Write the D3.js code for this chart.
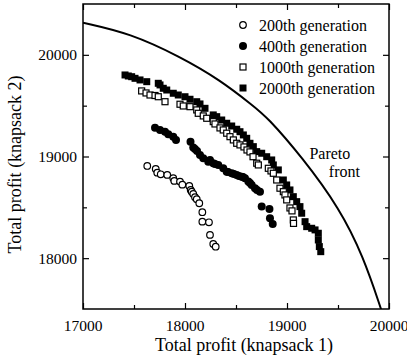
<!DOCTYPE html>
<html>
<head>
<meta charset="utf-8">
<script src="https://cdn.jsdelivr.net/npm/d3@7"></script>
<style>
  body { margin: 0; background: #fff; }
  text { font-family: "Liberation Serif", "DejaVu Serif", serif; }
</style>
</head>
<body>
<div id="chart"></div>
<script>
// values: [profit knapsack 1, profit knapsack 2]
const gen200 = [
  [17630,18907],[17713,18878],[17728,18841],[17762,18825],[17826,18819],[17885,18786],
  [17895,18760],[17951,18753],[17974,18723],[18042,18710],[18056,18671],[18066,18654],
  [18081,18632],[18098,18599],[18115,18580],[18140,18540],[18170,18452],[18170,18359],
  [18235,18353],[18245,18229],[18277,18140],[18301,18113]
];
const gen400 = [
  [17706,19284],[17755,19261],[17804,19244],[17836,19219],[17885,19195],[17912,19163],
  [18054,19146],[18081,19089],[18098,19075],[18118,19055],[18147,19015],[18179,18983],
  [18228,18949],[18245,18966],[18277,18934],[18294,18927],[18326,18917],[18375,18884],
  [18409,18851],[18422,18848],[18458,18835],[18480,18829],[18507,18819],[18529,18809],
  [18556,18802],[18568,18799],[18588,18786],[18621,18753],[18637,18740],[18654,18720],
  [18686,18688],[18706,18671],[18735,18654],[18752,18509],[18828,18484],[18833,18393],
  [18860,18337]
];
const gen1000 = [
  [17575,19645],[17618,19625],[17657,19605],[17706,19600],[17738,19588],[17804,19539],
  [17951,19514],[17983,19497],[18049,19490],[18115,19458],[18130,19425],[18179,19399],
  [18213,19376],[18277,19343],[18294,19320],[18343,19281],[18375,19261],[18409,19229],
  [18441,19195],[18474,19163],[18507,19130],[18539,19114],[18578,19094],[18608,19064],
  [18637,19045],[18667,18998],[18703,18934],[18719,18917],[18817,18884],[18843,18858],
  [18866,18835],[18899,18769],[18931,18688],[18964,18654],[18980,18622],[18997,18573],
  [19029,18494],[19049,18465],[19062,18376],[19064,18342]
];
const gen2000 = [
  [17412,19802],[17444,19792],[17477,19785],[17510,19769],[17559,19753],[17625,19736],
  [17738,19720],[17755,19704],[17787,19671],[17821,19654],[17885,19622],[17934,19605],
  [18000,19588],[18049,19563],[18115,19539],[18147,19517],[18196,19474],[18277,19409],
  [18311,19392],[18360,19359],[18409,19327],[18458,19300],[18507,19268],[18539,19244],
  [18572,19212],[18605,19179],[18637,19130],[18670,19097],[18703,19048],[18752,19032],
  [18801,18998],[18850,18966],[18866,18917],[18915,18868],[18964,18769],[18997,18720],
  [19029,18671],[19062,18605],[19095,18556],[19127,18507],[19144,18442],[19177,18359],
  [19193,18310],[19242,18294],[19275,18278],[19307,18245],[19307,18179],[19317,18114],
  [19331,18064]
];
const paretoFront = [
  [17000,20316],[17461,20212],[17951,19982],[18343,19753],[18670,19497],[18801,19392],
  [19144,18998],[19520,18484],[19748,18015],[19922,17501],[19940,17440]
];
const xTicks = [17000, 18000, 19000, 20000];
const yTicks = [18000, 19000, 20000];
const legendLabels = ["200th generation", "400th generation", "1000th generation", "2000th generation"];

const W = 407, H = 358;
const margin = {top: 4, right: 18, bottom: 49, left: 83};
const width = W - margin.left - margin.right;
const height = H - margin.top - margin.bottom;
const serif = "'Liberation Serif', 'DejaVu Serif', serif";

const svg = d3.select("#chart").append("svg")
  .attr("width", W)
  .attr("height", H);

const g = svg.append("g")
  .attr("transform", "translate(" + margin.left + "," + margin.top + ")");

const x = d3.scaleLinear().domain([17000, 20000]).range([0, width]);
const y = d3.scaleLinear().domain([17500, 20500]).range([height, 0]);

// inward ticks on all four sides, majors every 1000, minors at 500
const majorX = d3.range(17000, 20001, 1000), minorX = d3.range(17500, 20000, 1000);
const majorY = d3.range(18000, 20001, 1000), minorY = d3.range(18500, 20500, 1000);

function tickAxis(axisFn, scale, vals, len) {
  return axisFn(scale).tickValues(vals).tickSize(-len).tickFormat("");
}
[[d3.axisBottom, height], [d3.axisTop, 0]].forEach(([fn, off]) => {
  g.append("g").attr("class", "tk").attr("transform", "translate(0," + off + ")")
    .call(tickAxis(fn, x, majorX, 6));
  g.append("g").attr("class", "tk").attr("transform", "translate(0," + off + ")")
    .call(tickAxis(fn, x, minorX, 4));
});
[[d3.axisLeft, 0], [d3.axisRight, width]].forEach(([fn, off]) => {
  g.append("g").attr("class", "tk").attr("transform", "translate(" + off + ",0)")
    .call(tickAxis(fn, y, majorY, 6));
  g.append("g").attr("class", "tk").attr("transform", "translate(" + off + ",0)")
    .call(tickAxis(fn, y, minorY, 4));
});
g.selectAll(".tk .domain").remove();
g.selectAll(".tk line").attr("stroke", "#000").attr("stroke-width", 1.2);

// tick labels
g.selectAll(".xlab").data(xTicks).enter().append("text")
  .attr("x", d => x(d)).attr("y", height + 22)
  .attr("text-anchor", "middle")
  .style("font-family", serif).style("font-size", "15.5px")
  .text(d => d);
g.selectAll(".ylab").data(yTicks).enter().append("text")
  .attr("x", -6).attr("y", d => y(d)).attr("dy", "0.35em")
  .attr("text-anchor", "end")
  .style("font-family", serif).style("font-size", "15.5px")
  .text(d => d);

// axis titles
g.append("text")
  .attr("x", width / 2 + 8).attr("y", height + 42)
  .attr("text-anchor", "middle")
  .style("font-family", serif).style("font-size", "18px")
  .text("Total profit (knapsack 1)");
g.append("text")
  .attr("transform", "translate(" + (-62) + "," + (y(19000) + 8) + ") rotate(-90)")
  .attr("text-anchor", "middle")
  .style("font-family", serif).style("font-size", "18px")
  .text("Total profit (knapsack 2)");

// clip for the front
svg.append("defs").append("clipPath").attr("id", "clip")
  .append("rect").attr("width", width).attr("height", height);

g.append("path")
  .datum(paretoFront)
  .attr("clip-path", "url(#clip)")
  .attr("fill", "none").attr("stroke", "#000").attr("stroke-width", 2)
  .attr("d", d3.line().x(d => x(d[0])).y(d => y(d[1])).curve(d3.curveBasis));

g.append("text").attr("x", x(19220)).attr("y", y(19000) + 2)
  .style("font-family", serif).style("font-size", "16px").text("Pareto");
g.append("text").attr("x", x(19410)).attr("y", y(18830) + 3)
  .style("font-family", serif).style("font-size", "16px").text("front");

// markers
const sq = 7;
g.selectAll(".g2000").data(gen2000).enter().append("rect")
  .attr("x", d => x(d[0]) - sq / 2).attr("y", d => y(d[1]) - sq / 2)
  .attr("width", sq).attr("height", sq).attr("fill", "#000");
g.selectAll(".g1000").data(gen1000).enter().append("rect")
  .attr("x", d => x(d[0]) - 3).attr("y", d => y(d[1]) - 3)
  .attr("width", 6).attr("height", 6)
  .attr("fill", "#fff").attr("stroke", "#000").attr("stroke-width", 1.2);
g.selectAll(".g400").data(gen400).enter().append("circle")
  .attr("cx", d => x(d[0])).attr("cy", d => y(d[1])).attr("r", 4)
  .attr("fill", "#000");
g.selectAll(".g200").data(gen200).enter().append("circle")
  .attr("cx", d => x(d[0])).attr("cy", d => y(d[1])).attr("r", 3.3)
  .attr("fill", "#fff").attr("stroke", "#000").attr("stroke-width", 1.2);

// frame
g.append("rect").attr("width", width).attr("height", height)
  .attr("fill", "none").attr("stroke", "#000").attr("stroke-width", 1.5);

// legend
const leg = g.append("g").attr("transform", "translate(" + (243 - margin.left) + "," + (25 - margin.top) + ")");
legendLabels.forEach((lab, i) => {
  const row = leg.append("g").attr("transform", "translate(0," + (i * 21) + ")");
  if (i === 0) row.append("circle").attr("r", 3.3).attr("fill", "#fff").attr("stroke", "#000").attr("stroke-width", 1.2);
  if (i === 1) row.append("circle").attr("r", 4).attr("fill", "#000");
  if (i === 2) row.append("rect").attr("x", -3).attr("y", -3).attr("width", 6).attr("height", 6)
    .attr("fill", "#fff").attr("stroke", "#000").attr("stroke-width", 1.2);
  if (i === 3) row.append("rect").attr("x", -3.5).attr("y", -3.5).attr("width", 7).attr("height", 7).attr("fill", "#000");
  row.append("text").attr("x", 16).attr("dy", "0.35em")
    .style("font-family", serif).style("font-size", "16px").text(lab);
});
</script>
</body>
</html>
